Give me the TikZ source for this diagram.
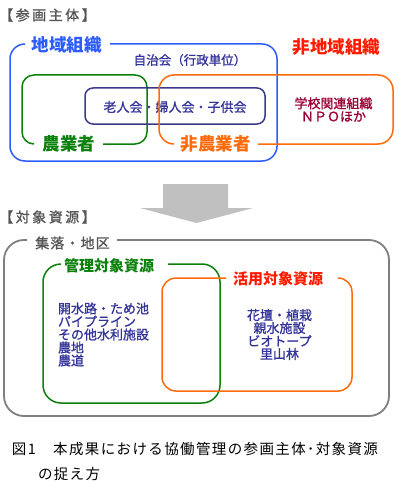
\documentclass[tikz,border=0pt]{standalone}
\usepackage{fontspec}
\setmainfont{Noto Sans CJK JP}
\newfontfamily\jpmed[FakeBold=1.1]{Noto Sans CJK JP}
\newcommand\jfs[1]{\fontsize{#1}{#1}\selectfont}
\newcommand\lsp[1]{\addfontfeatures{LetterSpace=#1}}
\definecolor{cblue}{HTML}{2C5CFF}
\definecolor{cgreen}{HTML}{0A800A}
\definecolor{corange}{HTML}{FF6A0A}
\definecolor{cred}{HTML}{FF1A00}
\definecolor{cnavy}{HTML}{333399}
\definecolor{cnavyline}{HTML}{3A3A88}
\definecolor{cdred}{HTML}{990033}
\definecolor{cgraytext}{HTML}{555555}
\definecolor{cgrayline}{HTML}{7F7F7F}
\definecolor{carrow}{HTML}{C0C0C0}
\begin{document}
\begin{tikzpicture}[x=1pt,y=-1pt,
  txt/.style={inner sep=0pt, outer sep=0pt},
  heading/.style={txt, text=cgraytext, font=\jpmed\jfs{14}\lsp{18}},
  biglabel/.style={txt, font=\jfs{17.5}\bfseries},
  midlabel/.style={txt, font=\jfs{15}\bfseries},
  bodytext/.style={txt, text=cnavy, font=\jpmed\jfs{13}},
  frame/.style={line width=1.5pt}]
\useasboundingbox (0,0) rectangle (400,492);

% ===== top section =====
\node[heading] (hsanka) at (47.5,15) {【参画主体】};

% regional organisations (blue)
\draw[frame, cblue, rounded corners=15pt]
  (110,44) -- (277,44) -- (277,161) -- (10,161) -- (10,44) -- (25,44);
\node[biglabel, text=cblue] (chiiki) at (66.5,45) {地域組織};
\node[biglabel, text=cred] (hichiiki) at (336.5,47) {非地域組織};
\node[txt, text=cnavy, font=\jpmed\jfs{12.5}] (jichikai) at (190,60) {自治会（行政単位）};

% farmers (green)
\draw[frame, cgreen, rounded corners=12pt]
  (103,144) -- (147,144) -- (147,75) -- (22,75) -- (22,144) -- (34,144);
\node[biglabel, text=cgreen] (nogyo) at (69,144) {農業者};

% associations (navy)
\draw[frame, cnavyline, rounded corners=8pt] (85,88) rectangle (265,124);
\node[bodytext] (rojin) at (175,107) {老人会・婦人会・子供会};

% non-farmers (orange)
\draw[frame, corange, rounded corners=15pt]
  (258,144) -- (393,144) -- (393,75) -- (159,75) -- (159,144) -- (174,144);
\node[biglabel, text=corange] (hinogyo) at (215.5,144) {非農業者};
\node[txt, text=cdred, font=\jpmed\jfs{13}, align=center] (gakko) at (333.5,109.5)
  {\fontsize{13}{15.5}\selectfont 学校関連組織\\ＮＰＯほか};

% ===== arrow =====
\fill[carrow] (163,184) -- (228,184) -- (228,208) -- (253,208) -- (196.5,223)
  -- (140,208) -- (163,208) -- cycle;

% ===== bottom section =====
\node[heading] (htaisho) at (47.5,217) {【対象資源】};

\draw[line width=1.8pt, cgrayline, rounded corners=20pt]
  (117,240) -- (389,240) -- (389,416) -- (4,416) -- (4,240) -- (27,240);
\node[txt, text=cgraytext, font=\jpmed\jfs{14}\lsp{8}] (shuraku) at (72.5,243) {集落・地区};

\draw[frame, cgreen, rounded corners=18pt]
  (168,264) -- (220,264) -- (220,403) -- (43,403) -- (43,264) -- (61,264);
\node[midlabel, text=cgreen] (kanri) at (109,266) {管理対象資源};

\draw[frame, corange, rounded corners=14pt]
  (338,278) -- (352,278) -- (352,391) -- (162,391) -- (162,278) -- (226,278);
\node[midlabel, text=cred] (katsuyo) at (278,278.5) {活用対象資源};

\node[bodytext, anchor=west, align=left] (kanrilist) at (58,334.5)
  {\fontsize{13}{15.75}\selectfont 開水路・ため池\\パイプライン\\その他水利施設\\農地\\農道};
\node[bodytext, align=center] (katsuyolist) at (279.5,334.5)
  {\fontsize{13}{15}\selectfont 花壇・植栽\\親水施設\\ビオトープ\\里山林};

% ===== caption =====
\node[txt, anchor=west, font=\jfs{14.5}\lsp{9.5}] (cap1) at (12,449)
  {図1　本成果における協働管理の参画主体･対象資源};
\node[txt, anchor=west, font=\jfs{14.5}\lsp{9.5}] (cap2) at (38,474) {の捉え方};
\end{tikzpicture}
\end{document}
